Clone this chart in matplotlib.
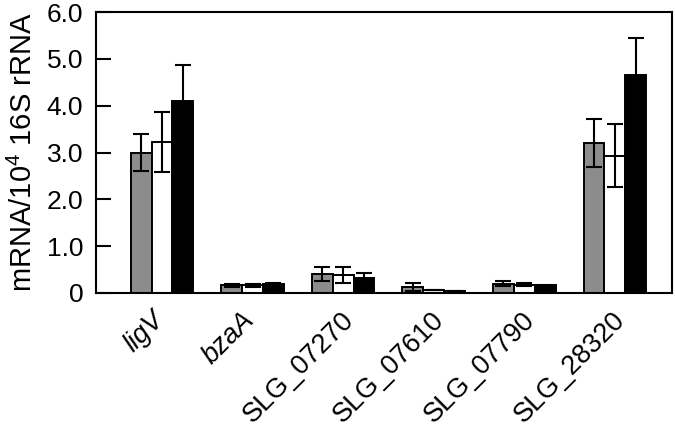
import matplotlib
matplotlib.use("Agg")
import matplotlib.pyplot as plt
import numpy as np
from matplotlib.ticker import FixedLocator, FixedFormatter

plt.rcParams['font.family'] = ['Liberation Sans', 'DejaVu Sans']
plt.rcParams['mathtext.fontset'] = 'custom'
plt.rcParams['mathtext.rm'] = 'Liberation Sans'
plt.rcParams['mathtext.it'] = 'Liberation Sans:italic'

genes = ['ligV', 'bzaA', 'SLG_07270', 'SLG_07610', 'SLG_07790', 'SLG_28320']
italic = [True, True, False, False, False, False]

gray_vals = [3.00, 0.16, 0.41, 0.13, 0.20, 3.20]
gray_err = [0.40, 0.03, 0.15, 0.08, 0.06, 0.51]
white_vals = [3.22, 0.16, 0.38, 0.07, 0.18, 2.93]
white_err = [0.64, 0.03, 0.17, 0.00, 0.04, 0.67]
black_vals = [4.10, 0.19, 0.33, 0.04, 0.16, 4.66]
black_err = [0.78, 0.02, 0.10, 0.00, 0.02, 0.79]

yticks = [0, 1, 2, 3, 4, 5, 6]
ytick_labels = ['0', '1.0', '2.0', '3.0', '4.0', '5.0', '6.0']

fig = plt.figure(figsize=(6.75, 4.34), dpi=100)
ax = fig.add_axes([0.142, 0.325, 0.8535, 0.647])

x = np.arange(len(genes))
w = 0.23
lw = 1.4
ekw = dict(elinewidth=1.5, capthick=1.5, ecolor='black')
series = [(gray_vals, gray_err, '#8c8c8c', -w), (white_vals, white_err, 'white', 0), (black_vals, black_err, 'black', w)]
for vals, errs, col, off in series:
    ax.bar(x + off, vals, width=w, color=col, edgecolor='black', linewidth=lw, zorder=2)
    ax.errorbar(x + off, vals, yerr=errs, fmt='none', capsize=6, zorder=3, **ekw)

ax.set_xlim(-0.73, 5.63)
ax.set_ylim(0, 6)
ax.yaxis.set_major_locator(FixedLocator(yticks))
ax.yaxis.set_major_formatter(FixedFormatter(ytick_labels))
ax.tick_params(axis='y', direction='in', length=11, width=1.5, labelsize=19, pad=9)
ax.set_xticks(x)
ax.set_xticklabels([])
ax.tick_params(axis='x', length=0, pad=0)
for s in ax.spines.values():
    s.set_linewidth(1.5)

for xi, g, it in zip(x, genes, italic):
    dx = -0.12 if it else -0.03
    ax.text(xi + dx, -0.3, g, rotation=45, ha='right', va='top', rotation_mode='anchor',
            fontsize=19.5, style='italic' if it else 'normal', transform=ax.transData)

ax.set_ylabel('mRNA/10$^{4}$ 16S rRNA', fontsize=21, labelpad=6)

fig.savefig('out.png', dpi=100)
